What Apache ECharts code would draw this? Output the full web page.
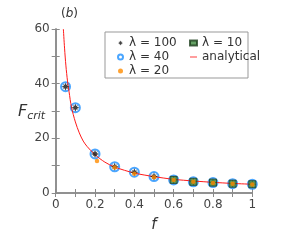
<!DOCTYPE html>
<html><head><meta charset="utf-8">
<script src="https://cdn.jsdelivr.net/npm/echarts@6/dist/echarts.min.js"></script>
<style>html,body{margin:0;padding:0;background:#fff}#c{width:289px;height:249px}</style>
</head><body><div id="c"></div>
<script>
// data
const fPoints = [0.05, 0.1, 0.2, 0.3, 0.4, 0.5, 0.6, 0.7, 0.8, 0.9, 1.0];
const lambda100 = [38.9, 31.2, 14.3, 9.6, 7.6, 6.0, 4.8, 4.1, 3.8, 3.4, 3.2];
const lambda40  = [38.9, 31.2, 14.3, 9.6, 7.6, 6.0, 4.8, 4.1, 3.8, 3.4, 3.2];
const f20 = [0.21, 0.3, 0.4, 0.5, 0.6, 0.7, 0.8, 0.9, 1.0];
const lambda20  = [11.7, 9.3, 7.0, 5.8, 4.8, 4.1, 3.7, 3.4, 3.1];
const f10 = [0.6, 0.7, 0.8, 0.9, 1.0];
const lambda10  = [4.8, 4.1, 3.8, 3.4, 3.2];
const fCurve = [0.039, 0.045, 0.052, 0.06, 0.068, 0.08, 0.1, 0.12, 0.14, 0.16, 0.2, 0.25, 0.3, 0.4, 0.5, 0.6, 0.7, 0.8, 0.9, 1.0];
const FCurve = [60, 53, 46.5, 41, 37, 31.5, 26, 22, 19, 17, 14.0, 11.3, 9.5, 7.3, 6.0, 5.0, 4.4, 3.9, 3.5, 3.2];
const xTicks = {min: 0, max: 1, step: 0.2};
const yTicks = {min: 0, max: 60, step: 20};

const zip = (a, b) => a.map((v, i) => [v, b[i]]);
const star = 'path://M0,-10L2.5,-4L7.1,-7.1L4,-2.5L10,0L4,2.5L7.1,7.1L2.5,4L0,10L-2.5,4L-7.1,7.1L-4,2.5L-10,0L-4,-2.5L-7.1,-7.1L-2.5,-4Z';
const axisCol = '#8a8a8a';
const font = 'DejaVu Sans';

function xAx(show) {
  return {
    type: 'value', min: xTicks.min, max: xTicks.max, interval: xTicks.step,
    position: show ? 'bottom' : 'top',
    axisLine: {show: true, lineStyle: {color: axisCol, width: 1.5}},
    axisTick: {show: true, inside: true, length: 4, lineStyle: {color: axisCol}},
    minorTick: {show: true, splitNumber: 2, length: 4, lineStyle: {color: axisCol}},
    axisLabel: {show: show, color: '#444', fontSize: 12, fontFamily: font, margin: 6},
    splitLine: {show: false},
    name: show ? 'f' : '', nameLocation: 'middle', nameGap: 25,
    nameTextStyle: {fontStyle: 'italic', fontSize: 15, color: '#333', fontFamily: font}
  };
}
function yAx(show) {
  return {
    type: 'value', min: yTicks.min, max: yTicks.max, interval: yTicks.step,
    position: show ? 'left' : 'right',
    axisLine: {show: true, lineStyle: {color: axisCol, width: 1.5}},
    axisTick: {show: true, inside: true, length: 4, lineStyle: {color: axisCol}},
    minorTick: {show: true, splitNumber: 2, length: 4, lineStyle: {color: axisCol}},
    axisLabel: {show: show, color: '#444', fontSize: 12, fontFamily: font, margin: 6},
    splitLine: {show: false}
  };
}

const chart = echarts.init(document.getElementById('c'), null, {renderer: 'canvas'});
chart.setOption({
  animation: false,
  backgroundColor: '#fff',
  grid: {left: 55.7, right: 36.7, top: 29, bottom: 56},
  title: {text: '{n|(}{i|b}{n|)}', left: 56, top: 3, textStyle: {fontWeight: 'normal', rich: {
    n: {fontSize: 12, color: '#333', fontFamily: font, fontWeight: 'normal'},
    i: {fontSize: 12, color: '#333', fontFamily: font, fontStyle: 'italic', fontWeight: 'normal'}
  }}},
  xAxis: [xAx(true), xAx(false)],
  yAxis: [yAx(true), yAx(false)],
  graphic: [
    {type: 'rect', shape: {x: 105, y: 32, width: 143, height: 46}, style: {fill: '#fff', stroke: '#999', lineWidth: 1}, z: 5},
    {type: 'text', left: 18, top: 104, style: {text: '{a|F}{b|crit}', rich: {
      a: {fontStyle: 'italic', fontSize: 16, fill: '#333', fontFamily: font},
      b: {fontStyle: 'italic', fontSize: 11, fill: '#333', fontFamily: font, verticalAlign: 'bottom', padding: [8, 0, 0, 0]}
    }}}
  ],
  legend: [
    {data: ['λ = 100', 'λ = 40', 'λ = 20'], orient: 'vertical', left: 112, top: 31, itemGap: 0, itemWidth: 7, itemHeight: 5, z: 10,
     textStyle: {fontSize: 12, fontFamily: font, color: '#333', lineHeight: 14}},
    {data: [{name: 'λ = 10'}, {name: 'analytical', icon: 'path://M0,0h10v1.2h-10z'}], orient: 'vertical', left: 184, top: 31, itemGap: 0, itemWidth: 7, itemHeight: 5, z: 10,
     textStyle: {fontSize: 12, fontFamily: font, color: '#333', lineHeight: 14}}
  ],
  series: [
    {name: 'λ = 40', type: 'scatter', data: zip(fPoints, lambda40), symbol: 'emptyCircle', symbolSize: 9,
     itemStyle: {color: '#1e90ff', borderColor: '#1e90ff', borderWidth: 2}, z: 2},
    {name: 'analytical', type: 'line', data: zip(fCurve, FCurve), smooth: 0.3, showSymbol: false, symbol: 'none',
     lineStyle: {color: '#ff1a1a', width: 1}, itemStyle: {color: '#ff1a1a'}, z: 3},
    {name: 'λ = 100', type: 'scatter', data: zip(fPoints, lambda100), symbol: star, symbolSize: 8,
     itemStyle: {color: '#111'}, z: 4},
    {name: 'λ = 10', type: 'scatter', data: zip(f10, lambda10), symbol: 'rect', symbolSize: 7,
     itemStyle: {color: '#3f8a3f', borderColor: '#1d3d1d', borderWidth: 1}, z: 5},
    {name: 'λ = 20', type: 'scatter', data: zip(f20, lambda20), symbol: 'circle', symbolSize: 4.5,
     itemStyle: {color: '#ff8c00'}, z: 6}
  ]
});
</script></body></html>
